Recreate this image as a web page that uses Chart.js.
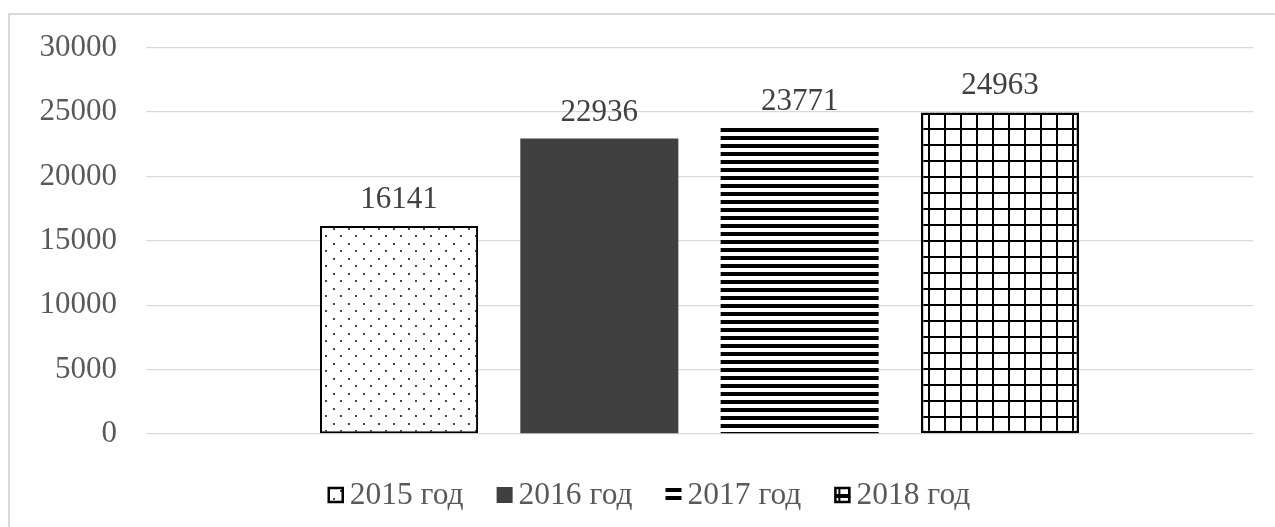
<!DOCTYPE html>
<html>
<head>
<meta charset="utf-8">
<script src="https://cdn.jsdelivr.net/npm/chart.js@4/dist/chart.umd.min.js"></script>
<style>
  html, body { margin: 0; padding: 0; background: #ffffff; }
  #wrap { position: relative; width: 1275px; height: 527px; }
</style>
</head>
<body>
<div id="wrap"><canvas id="c" width="1275" height="527"></canvas></div>
<script>
// ---- data ----
const categories = [''];
const seriesNames = ['2015 год', '2016 год', '2017 год', '2018 год'];
const seriesValues = [16141, 22936, 23771, 24963];
const yTicks = [0, 5000, 10000, 15000, 20000, 25000, 30000];

// ---- patterns ----
function makePattern(w, h, draw) {
  const c = document.createElement('canvas');
  c.width = w; c.height = h;
  const g = c.getContext('2d');
  g.fillStyle = '#ffffff';
  g.fillRect(0, 0, w, h);
  draw(g);
  return document.getElementById('c').getContext('2d').createPattern(c, 'repeat');
}
const dotPattern = makePattern(15, 15, g => {
  g.fillStyle = '#444444';
  g.fillRect(3, 3, 2, 2);
  g.fillRect(10, 10, 2, 2);
});
const stripePattern = makePattern(8, 8, g => {
  g.fillStyle = '#000000';
  g.fillRect(0, 0, 8, 4);
});
const gridPattern = makePattern(16, 16, g => {
  g.fillStyle = '#000000';
  g.fillRect(0, 0, 16, 2);
  g.fillRect(0, 0, 2, 16);
});
const fills = [dotPattern, '#404040', stripePattern, gridPattern];
const borders = ['#000000', '#404040', 'rgba(0,0,0,0)', '#000000'];
const borderW = [2, 0, 0, 2.5];

const FONT = '"Liberation Serif", "Times New Roman", serif';

const framePlugin = {
  id: 'frame',
  beforeDraw(chart) {
    const ctx = chart.ctx;
    ctx.save();
    ctx.strokeStyle = '#d9d9d9';
    ctx.lineWidth = 2;
    ctx.strokeRect(9, 14, 1400, 700);
    ctx.restore();
  }
};

const labelPlugin = {
  id: 'valueLabels',
  afterDatasetsDraw(chart) {
    const ctx = chart.ctx;
    ctx.save();
    ctx.font = '31px ' + FONT;
    ctx.fillStyle = '#404040';
    ctx.textAlign = 'center';
    ctx.textBaseline = 'alphabetic';
    chart.data.datasets.forEach((ds, i) => {
      const meta = chart.getDatasetMeta(i);
      meta.data.forEach((bar, j) => {
        ctx.fillText(String(ds.data[j]), bar.x, bar.y - 18);
      });
    });
    ctx.restore();
  }
};

const legendPlugin = {
  id: 'customLegend',
  afterDraw(chart) {
    const ctx = chart.ctx;
    ctx.save();
    ctx.font = '31.5px ' + FONT;
    ctx.textBaseline = 'middle';
    ctx.textAlign = 'left';
    const box = 16, gapText = 6, gapItem = 33, cy = 495;
    const items = chart.data.datasets.map(ds => ({
      ds, w: box + gapText + ctx.measureText(ds.label).width
    }));
    const total = items.reduce((s, it) => s + it.w, 0) + gapItem * (items.length - 1);
    let x = 649 - total / 2;
    items.forEach((it, i) => {
      const by = cy - box / 2;
      ctx.fillStyle = it.ds.backgroundColor;
      ctx.fillRect(x, by, box, box);
      if (i === 0 || i === 3) {
        ctx.strokeStyle = '#000000';
        ctx.lineWidth = 2.5;
        ctx.strokeRect(x + 1, by + 1, box - 2, box - 2);
        if (i === 3) {
          ctx.lineWidth = 2;
          ctx.beginPath();
          ctx.moveTo(x + 5, by + 1); ctx.lineTo(x + 5, by + box - 1);
          ctx.moveTo(x + 1, by + box / 2); ctx.lineTo(x + box - 1, by + box / 2);
          ctx.stroke();
        }
      }
      ctx.fillStyle = '#595959';
      ctx.fillText(it.ds.label, x + box + gapText, cy + 1);
      x += it.w + gapItem;
    });
    ctx.restore();
  }
};

new Chart(document.getElementById('c'), {
  type: 'bar',
  data: {
    labels: categories,
    datasets: seriesNames.map((name, i) => ({
      label: name,
      data: [seriesValues[i]],
      backgroundColor: fills[i],
      borderColor: borders[i],
      borderWidth: borderW[i],
      borderSkipped: false,
      categoryPercentage: 0.7238,
      barPercentage: 0.789
    }))
  },
  options: {
    responsive: false,
    animation: false,
    events: [],
    layout: { padding: { left: 0, right: 22, top: 44, bottom: 93 } },
    plugins: {
      legend: { display: false },
      tooltip: { enabled: false },
      title: { display: false }
    },
    scales: {
      x: { display: false },
      y: {
        min: 0,
        max: 30000,
        afterBuildTicks(scale) { scale.ticks = yTicks.map(v => ({ value: v })); },
        afterFit(scale) { scale.width = 146; },
        border: { display: false },
        grid: { color: '#d9d9d9', lineWidth: 1.3, drawTicks: false },
        ticks: {
          padding: 29,
          color: '#595959',
          font: { family: FONT, size: 31 },
          callback: v => String(v)
        }
      }
    }
  },
  plugins: [framePlugin, labelPlugin, legendPlugin]
});
</script>
</body>
</html>
